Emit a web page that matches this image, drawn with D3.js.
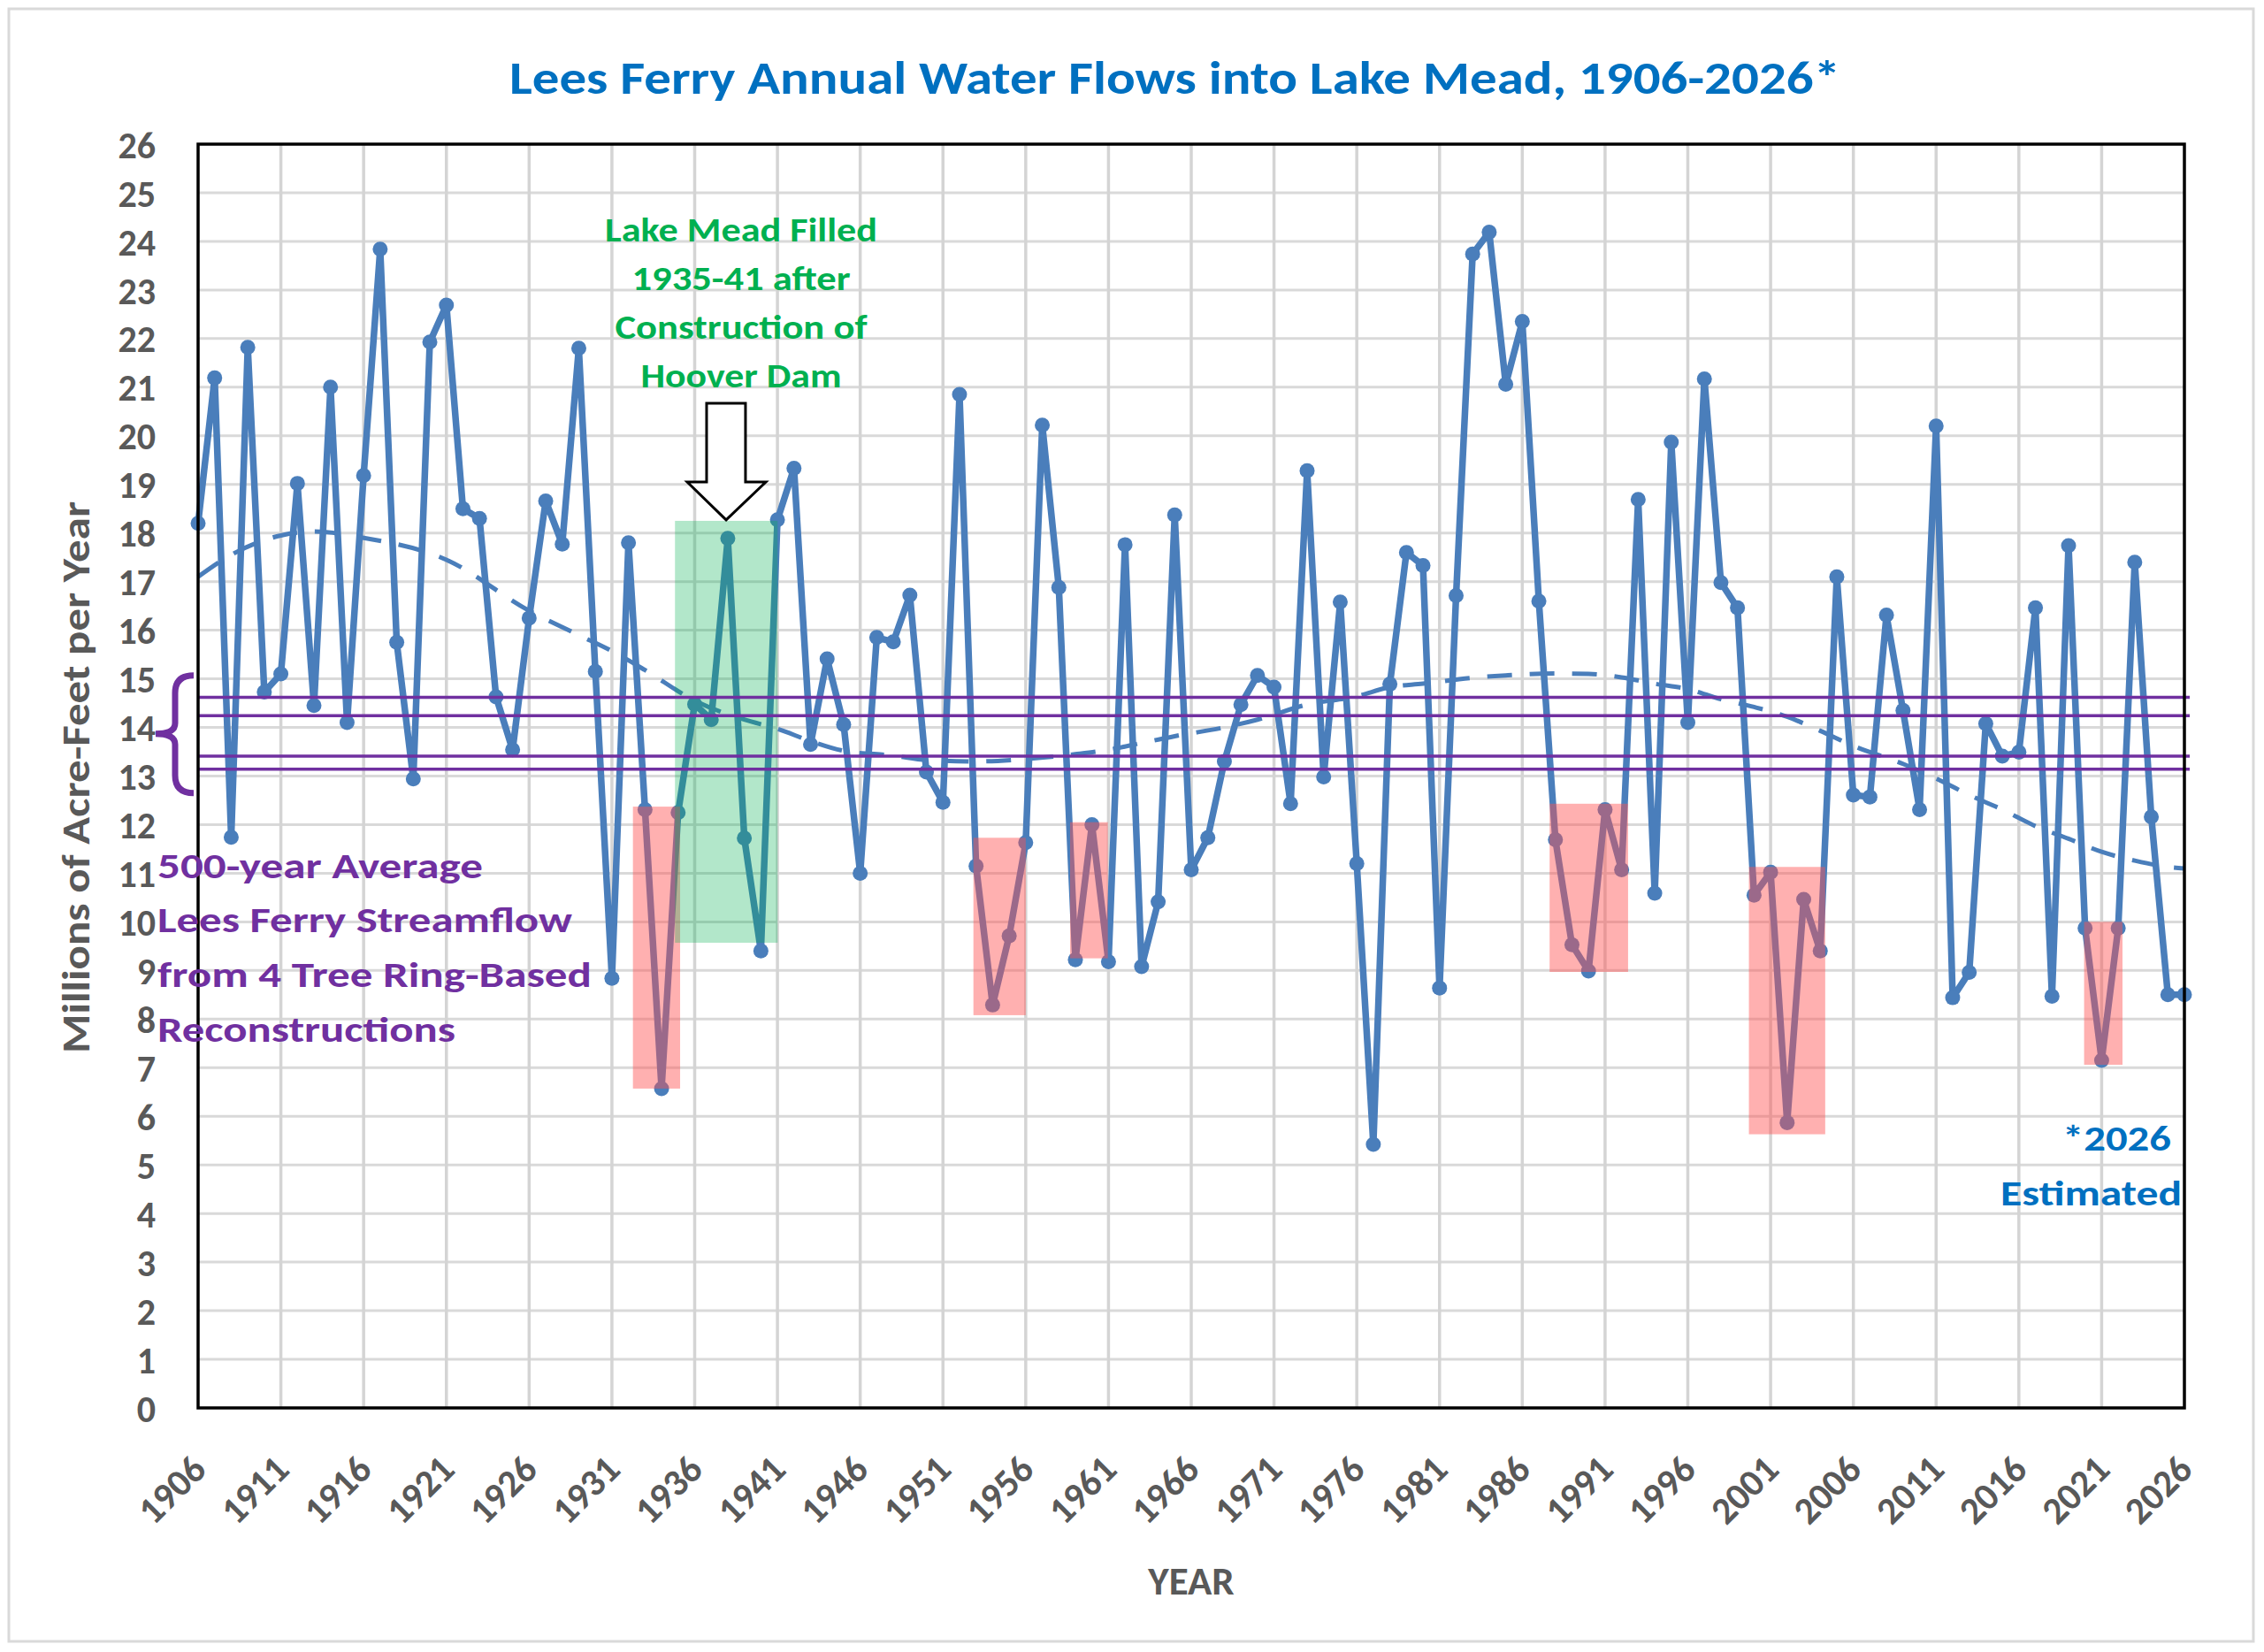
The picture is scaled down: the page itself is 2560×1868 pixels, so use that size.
<!DOCTYPE html>
<html><head><meta charset="utf-8">
<script src="https://cdn.jsdelivr.net/npm/d3@7"></script>
<style>html,body{margin:0;padding:0;background:#fff;} svg{display:block;}</style>
</head><body><svg id="c" width="2560" height="1868"></svg>
<script>
// ---------- data ----------
const firstYear = 1906, lastYear = 2026;
const flows = [
 18.2, 21.19, 11.74, 21.82, 14.73, 15.1, 19.02, 14.45, 21.0, 14.1,      // 1906-1915
 19.18, 23.84, 15.75, 12.94, 21.93, 22.69, 18.5, 18.3, 14.63, 13.54,   // 1916-1925
 16.25, 18.66, 17.77, 21.8, 15.15, 8.84, 17.8, 12.31, 6.57, 12.25,     // 1926-1935
 14.48, 14.16, 17.89, 11.72, 9.4, 18.27, 19.33, 13.65, 15.41, 14.06,   // 1936-1945
 11.0, 15.85, 15.76, 16.72, 13.08, 12.46, 20.85, 11.15, 8.29, 9.71,    // 1946-1955
 11.63, 20.22, 16.88, 9.22, 12.0, 9.18, 17.76, 9.08, 10.41, 18.37,     // 1956-1965
 11.07, 11.73, 13.3, 14.47, 15.07, 14.83, 12.43, 19.28, 12.98, 16.58,  // 1966-1975
 11.2, 5.42, 14.89, 17.6, 17.33, 8.64, 16.71, 23.74, 24.19, 21.06,     // 1976-1985
 22.35, 16.6, 11.69, 9.53, 8.99, 12.31, 11.07, 18.69, 10.59, 19.87,    // 1986-1995
 14.1, 21.17, 16.98, 16.46, 10.55, 11.02, 5.87, 10.46, 9.4, 17.1,      // 1996-2005
 12.61, 12.57, 16.31, 14.35, 12.31, 20.2, 8.44, 8.96, 14.08, 13.41,    // 2006-2015
 13.49, 16.46, 8.47, 17.74, 9.87, 7.15, 9.87, 17.4, 12.16, 8.5,        // 2016-2025
 8.5                                                                    // 2026
];
const years = d3.range(firstYear, lastYear + 1);

const trendYears  = [1906, 1908, 1911, 1913, 1916, 1921, 1926, 1929, 1931, 1933, 1936, 1939, 1941, 1943, 1945, 1948, 1950, 1953, 1956, 1959, 1961, 1963, 1965, 1968, 1970, 1973, 1976, 1978, 1980, 1983, 1985, 1988, 1990, 1992, 1994, 1996, 1998, 2000, 2002, 2004, 2006, 2009, 2011, 2013, 2015, 2017, 2019, 2021, 2023, 2025, 2026];
const trendValues = [17.1, 17.55, 17.95, 18.03, 17.9, 17.45, 16.4, 15.9, 15.57, 15.18, 14.55, 14.16, 13.97, 13.72, 13.52, 13.42, 13.33, 13.3, 13.35, 13.45, 13.54, 13.68, 13.82, 14.0, 14.16, 14.47, 14.64, 14.83, 14.9, 15.02, 15.07, 15.11, 15.1, 15.03, 14.9, 14.79, 14.58, 14.42, 14.22, 13.93, 13.62, 13.25, 12.95, 12.61, 12.31, 11.97, 11.71, 11.44, 11.26, 11.13, 11.1];

const treeRingAverages = [14.62, 14.24, 13.41, 13.14];

const yTicks = d3.range(0, 27);
const xTickYears = d3.range(1906, 2027, 5);

// highlighted periods: [startYear, endYear, low, high]
const droughtBoxes = [
  [1932.27, 1935.12, 6.57, 12.37],
  [1952.84, 1956.0, 8.08, 11.73],
  [1958.68, 1960.96, 9.25, 12.05],
  [1987.65, 1992.39, 8.97, 12.43],
  [1999.69, 2004.3, 5.63, 11.13],
  [2019.94, 2022.26, 7.06, 10.0]
];
const fillBox = [1934.81, 1941.01, 9.57, 18.25];
// arrow outline in data units (year, value)
const arrowPts = [[1936.72, 20.67], [1939.07, 20.67], [1939.07, 19.05], [1940.3, 19.05], [1937.9, 18.27], [1935.55, 19.05], [1936.72, 19.05]];

const titleText = "Lees Ferry Annual Water Flows into Lake Mead, 1906-2026*";
const yTitle = "Millions of Acre-Feet per Year";
const xTitle = "YEAR";
const greenLines = ["Lake Mead Filled", "1935-41 after", "Construction of", "Hoover Dam"];
const greenWidths = [308, 247, 285, 227];
const purpleLines = ["500-year Average", "Lees Ferry Streamflow", "from 4 Tree Ring-Based", "Reconstructions"];
const purpleWidths = [368, 469, 491, 337];
const noteLines = ["*2026", "Estimated"];

// ---------- drawing ----------
const FONT = "Carlito, Calibri, Lato, 'Open Sans', sans-serif";
const svg = d3.select("#c");
const L = 224, R = 2470, T = 163, B = 1592;
const x = d3.scaleLinear().domain([firstYear, lastYear]).range([L, R]);
const y = d3.scaleLinear().domain([0, 26]).range([B, T]);

const blue = "#4A7EBB", purple = "#7030A0", green = "#00B050", textBlue = "#0070C0", gray = "#595959";

svg.append("rect").attr("x", 0).attr("y", 0).attr("width", 2560).attr("height", 1868).attr("fill", "#fff");
svg.append("rect").attr("x", 10).attr("y", 10).attr("width", 2538).attr("height", 1846)
  .attr("fill", "none").attr("stroke", "#d9d9d9").attr("stroke-width", 3);

// grid
const grid = svg.append("g");
grid.selectAll("line.h").data(yTicks.filter(d => d > 0 && d < 26)).join("line")
  .attr("x1", L).attr("x2", R).attr("y1", d => y(d)).attr("y2", d => y(d))
  .attr("stroke", "#d9d9d9").attr("stroke-width", 3);
grid.selectAll("line.v").data(xTickYears.filter(d => d > firstYear && d < lastYear)).join("line")
  .attr("y1", T).attr("y2", B).attr("x1", d => x(d)).attr("x2", d => x(d))
  .attr("stroke", "#d4d4d4").attr("stroke-width", 3.5);

// trend
const trend = trendYears.map((yr, i) => [yr, trendValues[i]]);
svg.append("path").datum(trend)
  .attr("d", d3.line().x(d => x(d[0])).y(d => y(d[1])).curve(d3.curveMonotoneX))
  .attr("fill", "none").attr("stroke", blue).attr("stroke-width", 5)
  .attr("stroke-dasharray", "28,20");

// series
const pts = years.map((yr, i) => [yr, flows[i]]);
svg.append("path").datum(pts)
  .attr("d", d3.line().x(d => x(d[0])).y(d => y(d[1])))
  .attr("fill", "none").attr("stroke", blue).attr("stroke-width", 7.5).attr("stroke-linejoin", "round");
svg.append("g").selectAll("circle").data(pts).join("circle")
  .attr("cx", d => x(d[0])).attr("cy", d => y(d[1])).attr("r", 8.5).attr("fill", blue);

// boxes
svg.append("g").selectAll("rect").data(droughtBoxes).join("rect")
  .attr("x", d => x(d[0])).attr("width", d => x(d[1]) - x(d[0]))
  .attr("y", d => y(d[3])).attr("height", d => y(d[2]) - y(d[3]))
  .attr("fill", "rgb(255,80,80)").attr("fill-opacity", 0.45);
svg.append("rect")
  .attr("x", x(fillBox[0])).attr("width", x(fillBox[1]) - x(fillBox[0]))
  .attr("y", y(fillBox[3])).attr("height", y(fillBox[2]) - y(fillBox[3]))
  .attr("fill", "rgb(0,176,80)").attr("fill-opacity", 0.3);

// tree-ring average lines
svg.append("g").selectAll("line").data(treeRingAverages).join("line")
  .attr("x1", L).attr("x2", R + 6).attr("y1", d => y(d)).attr("y2", d => y(d))
  .attr("stroke", purple).attr("stroke-width", 3.5);

// bracket
const bt = y(15.07), bb = y(12.65), bm = y(13.87);
svg.append("path")
  .attr("d", `M219,${bt} Q198,${bt} 198,${bt + 20} L198,${bm - 12} Q198,${bm} 176,${bm} Q198,${bm} 198,${bm + 12} L198,${bb - 20} Q198,${bb} 219,${bb}`)
  .attr("fill", "none").attr("stroke", purple).attr("stroke-width", 7);

// frame
svg.append("rect").attr("x", L).attr("y", T).attr("width", R - L).attr("height", B - T)
  .attr("fill", "none").attr("stroke", "#000").attr("stroke-width", 3.5);

// y axis labels
const yAxis = svg.append("g").attr("transform", `translate(${L},0)`)
  .call(d3.axisLeft(y).tickValues(yTicks).tickSize(0).tickPadding(48).tickFormat(d3.format("d")));
yAxis.select(".domain").remove();
yAxis.selectAll("text").attr("font-family", FONT).attr("font-size", 42).attr("font-weight", "bold")
  .attr("fill", gray).attr("dy", "0.36em");

// x axis labels
const xAxis = svg.append("g").attr("transform", `translate(0,${B})`)
  .call(d3.axisBottom(x).tickValues(xTickYears).tickSize(0).tickFormat(d3.format("d")));
xAxis.select(".domain").remove();
xAxis.selectAll("text").attr("font-family", FONT).attr("font-size", 43).attr("font-weight", "bold")
  .attr("fill", gray).attr("text-anchor", "end").attr("x", 0).attr("y", 0).attr("dy", 0)
  .attr("transform", "translate(11,72) rotate(-45)");

// titles
svg.append("text").text(titleText).attr("x", 576).attr("y", 106)
  .attr("textLength", 1505).attr("lengthAdjust", "spacingAndGlyphs")
  .attr("font-family", FONT).attr("font-size", 52).attr("font-weight", "bold").attr("fill", textBlue);
svg.append("text").text(yTitle).attr("transform", "translate(101,879) rotate(-90)")
  .attr("text-anchor", "middle").attr("textLength", 624).attr("lengthAdjust", "spacingAndGlyphs")
  .attr("font-family", FONT).attr("font-size", 44).attr("font-weight", 600).attr("fill", gray);
svg.append("text").text(xTitle).attr("x", 1347).attr("y", 1803).attr("text-anchor", "middle")
  .attr("font-family", FONT).attr("font-size", 45).attr("font-weight", "bold").attr("fill", gray);

// green annotation
const greenBase = [273, 328, 383, 438];
svg.append("g").selectAll("text").data(greenLines).join("text")
  .text(d => d).attr("x", 838).attr("y", (d, i) => greenBase[i]).attr("text-anchor", "middle")
  .attr("textLength", (d, i) => greenWidths[i]).attr("lengthAdjust", "spacingAndGlyphs")
  .attr("font-family", FONT).attr("font-size", 39).attr("font-weight", "bold").attr("fill", green);

// arrow
svg.append("path")
  .attr("d", d3.line().x(d => x(d[0])).y(d => y(d[1])).curve(d3.curveLinearClosed)(arrowPts))
  .attr("fill", "#fff").attr("stroke", "#000").attr("stroke-width", 3).attr("stroke-linejoin", "miter");

// purple annotation
const purpleBase = [993, 1054, 1116, 1178];
svg.append("g").selectAll("text").data(purpleLines).join("text")
  .text(d => d).attr("x", 178).attr("y", (d, i) => purpleBase[i])
  .attr("textLength", (d, i) => purpleWidths[i]).attr("lengthAdjust", "spacingAndGlyphs")
  .attr("font-family", FONT).attr("font-size", 40).attr("font-weight", "bold").attr("fill", purple);

// estimate note
const noteX = [2332, 2262], noteBase = [1301, 1363], noteW = [123, 205];
svg.append("g").selectAll("text").data(noteLines).join("text")
  .text(d => d).attr("x", (d, i) => noteX[i]).attr("y", (d, i) => noteBase[i])
  .attr("textLength", (d, i) => noteW[i]).attr("lengthAdjust", "spacingAndGlyphs")
  .attr("font-family", FONT).attr("font-size", 41).attr("font-weight", "bold").attr("fill", textBlue);
</script></body></html>
